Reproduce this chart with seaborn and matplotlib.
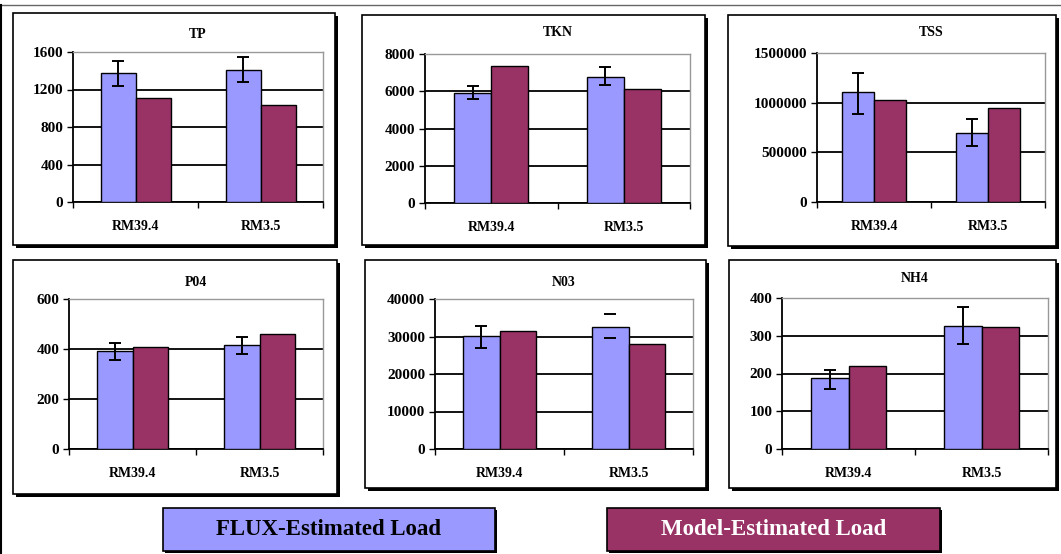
import numpy as np
import pandas as pd
import seaborn as sns
import matplotlib.pyplot as plt
from matplotlib.patches import Rectangle
from matplotlib.lines import Line2D

sites = ["RM39.4", "RM3.5"]
series = ["FLUX-Estimated Load", "Model-Estimated Load"]
colors = ["#9999FF", "#993366"]

titles = ["TP", "TKN", "TSS", "P04", "N03", "NH4"]
flux = [[1380, 1410], [5910, 6770], [1104000, 698000],
        [391, 415], [30150, 32460], [188, 325]]
model = [[1110, 1030], [7380, 6140], [1027000, 946000],
         [408, 461], [31400, 28100], [219, 322]]
err_lo = [[1240, 1280], [5610, 6340], [889000, 564000],
          [357, 380], [27050, 29700], [158, 279]]
err_hi = [[1505, 1545], [6270, 7290], [1302000, 836000],
          [424, 448], [32800, 35900], [209, 376]]
err_line = [[1, 1], [1, 1], [1, 1], [1, 1], [1, 0], [1, 1]]
ymax = [1600, 8000, 1500000, 600, 40000, 400]
ystep = [400, 2000, 500000, 200, 10000, 100]

W, H = 1061, 554
# pixel boxes: frame (l, t, r, b), plot area (l, t, r, b), title y
frames = [(13, 13, 335, 245), (362, 15, 705, 245), (728, 15, 1056, 246),
          (13, 260, 337, 494), (365, 260, 706, 488), (729, 260, 1056, 488)]
plots = [(73, 52, 323, 202), (425, 54, 690, 203), (817, 53, 1045, 202),
         (69, 299, 323, 449), (435, 299, 693, 449), (782, 298, 1048, 449)]
title_y = [35, 33, 33, 282, 282, 278]

serif = "Liberation Serif"

fig = plt.figure(figsize=(W / 100, H / 100), dpi=100)
fig.patch.set_facecolor("white")


def fx(x):
    return x / W


def fy(y):
    return 1 - y / H


def frame(l, t, r, b, face="white", sh=3):
    fig.add_artist(Rectangle((fx(l + sh), fy(b + sh)), fx(r - l), (b - t) / H,
                             transform=fig.transFigure, facecolor="black",
                             edgecolor="black", lw=0, zorder=-2))
    fig.add_artist(Rectangle((fx(l), fy(b)), fx(r - l), (b - t) / H,
                             transform=fig.transFigure, facecolor=face,
                             edgecolor="black", lw=1.2, zorder=-1))


for i in range(6):
    frame(*frames[i])
    pl, pt, pr, pb = plots[i]
    ax = fig.add_axes([fx(pl), fy(pb), fx(pr - pl), (pb - pt) / H])
    ax.set_facecolor("none")

    df = pd.DataFrame({
        "site": sites * 2,
        "series": [series[0]] * 2 + [series[1]] * 2,
        "value": flux[i] + model[i],
    })
    sns.barplot(data=df, x="site", y="value", hue="series", order=sites,
                hue_order=series, palette=colors, width=0.56, errorbar=None,
                edgecolor="black", linewidth=1, saturation=1, ax=ax,
                legend=False, zorder=3)

    bars = ax.containers[0]
    for j, rect in enumerate(bars):
        cx = rect.get_x() + rect.get_width() / 2
        mid = (err_lo[i][j] + err_hi[i][j]) / 2
        half = (err_hi[i][j] - err_lo[i][j]) / 2
        ax.errorbar([cx], [mid], yerr=[half], fmt="none", ecolor="black",
                    elinewidth=1.4 if err_line[i][j] else 0, capsize=4,
                    capthick=1.4, zorder=4)

    ticks = np.arange(0, ymax[i] + 1, ystep[i])
    ax.set_ylim(0, ymax[i])
    ax.set_yticks(ticks)
    ax.set_yticklabels([f"{int(v)}" for v in ticks], fontfamily=serif,
                       fontweight="bold", fontsize=11)
    ax.set_xlim(-0.5, 1.5)
    ax.set_xticks([0, 1])
    ax.set_xticklabels(sites, fontfamily=serif, fontweight="bold", fontsize=10)
    ax.set_xticks([-0.5, 0.5, 1.5], minor=True)
    ax.tick_params(axis="x", which="major", length=0, pad=13)
    ax.tick_params(axis="x", which="minor", length=4, width=1, direction="out")
    ax.tick_params(axis="y", length=4, width=1, direction="out", pad=3)
    ax.set_xlabel("")
    ax.set_ylabel("")
    ax.yaxis.grid(True, color="black", lw=1.3)
    ax.set_axisbelow(True)
    for s in ["top", "right"]:
        ax.spines[s].set_color("#999999")
        ax.spines[s].set_linewidth(1)
    for s in ["left", "bottom"]:
        ax.spines[s].set_color("black")
        ax.spines[s].set_linewidth(1.3)

    fig.text(fx((pl + pr) / 2), fy(title_y[i]), titles[i], ha="center",
             va="center", fontfamily=serif, fontweight="bold", fontsize=10)

# legend boxes
leg_boxes = [(163, 508, 495, 551), (607, 508, 940, 551)]
text_colors = ["black", "white"]
for k in range(2):
    l, t, r, b = leg_boxes[k]
    frame(l, t, r, b, face=colors[k], sh=2)
    fig.text(fx((l + r) / 2), fy((t + b) / 2), series[k], ha="center",
             va="center", color=text_colors[k], fontfamily=serif,
             fontweight="bold", fontsize=16.5)

# outer border of the picture
fig.add_artist(Line2D([0, 1], [fy(5), fy(5)], transform=fig.transFigure,
                      color="#666666", lw=1))
fig.add_artist(Line2D([fx(1), fx(1)], [0, fy(5)], transform=fig.transFigure,
                      color="black", lw=1.5))

fig.savefig("out.png", dpi=100)
